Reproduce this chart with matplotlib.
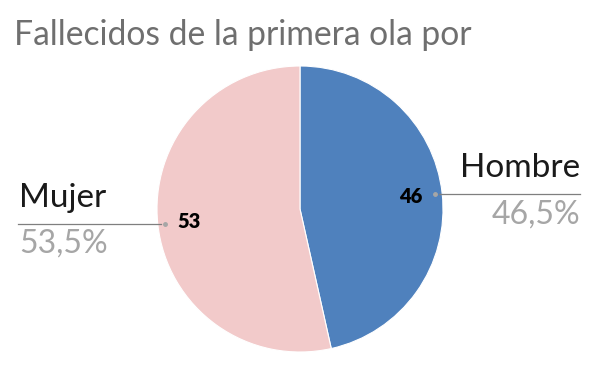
import matplotlib
matplotlib.use("Agg")
import matplotlib.pyplot as plt
import numpy as np

title = "Fallecidos de la primera ola por"
categories = ["Hombre", "Mujer"]
values = [46.4, 53.4]
pct_labels = ["46,5%", "53,5%"]
colors = ["#4F81BD", "#F2CACA"]

W, H = 600, 371
fig = plt.figure(figsize=(6, 3.71), dpi=100)
ax = fig.add_axes([0, 0, 1, 1])

cx, cy, R = 300, H - 209, 143
total = sum(values)
wedges, texts, autotexts = ax.pie(
    values, colors=colors, startangle=90, counterclock=False,
    center=(cx, cy), radius=R, frame=True,
    autopct=lambda p: f"{p * total / 100:.0f}", pctdistance=0.78,
    wedgeprops=dict(edgecolor="white", linewidth=0.8),
    textprops=dict(fontsize=14.5, fontweight="heavy", color="black", family="Lato"))
ax.set_xlim(0, W)
ax.set_ylim(0, H)
ax.axis("off")

fig.text(14 / W, 1 - 45 / H, title, fontsize=24.2, color="#6f6f6f", family="Lato",
         va="baseline", ha="left")

# leader lines and outer labels
for w, cat, pl in zip(wedges, categories, pct_labels):
    mid = np.deg2rad((w.theta1 + w.theta2) / 2)
    dx, dy = np.cos(mid), np.sin(mid)
    px, py = cx + 0.95 * R * dx, cy + 0.95 * R * dy
    ax.plot([px], [py], "o", color="#a6a6a6", ms=2.5, zorder=5)
    if dx > 0:
        x_end, ha, x_txt = 580, "right", 580
        ax.plot([px + 4, x_end], [py, py], color="#7f7f7f", lw=0.9)
    else:
        x_end, ha, x_txt = 18, "left", 19
        ax.plot([x_end, px - 4], [py, py], color="#7f7f7f", lw=0.9)
    ax.text(x_txt, py + 17, cat, fontsize=24, color="#1a1a1a", family="Lato",
            ha=ha, va="baseline")
    ax.text(x_txt, py - 29, pl, fontsize=23, color="#a6a6a6", family="Lato",
            ha=ha, va="baseline")

fig.savefig("out.png", dpi=100, facecolor="white")
